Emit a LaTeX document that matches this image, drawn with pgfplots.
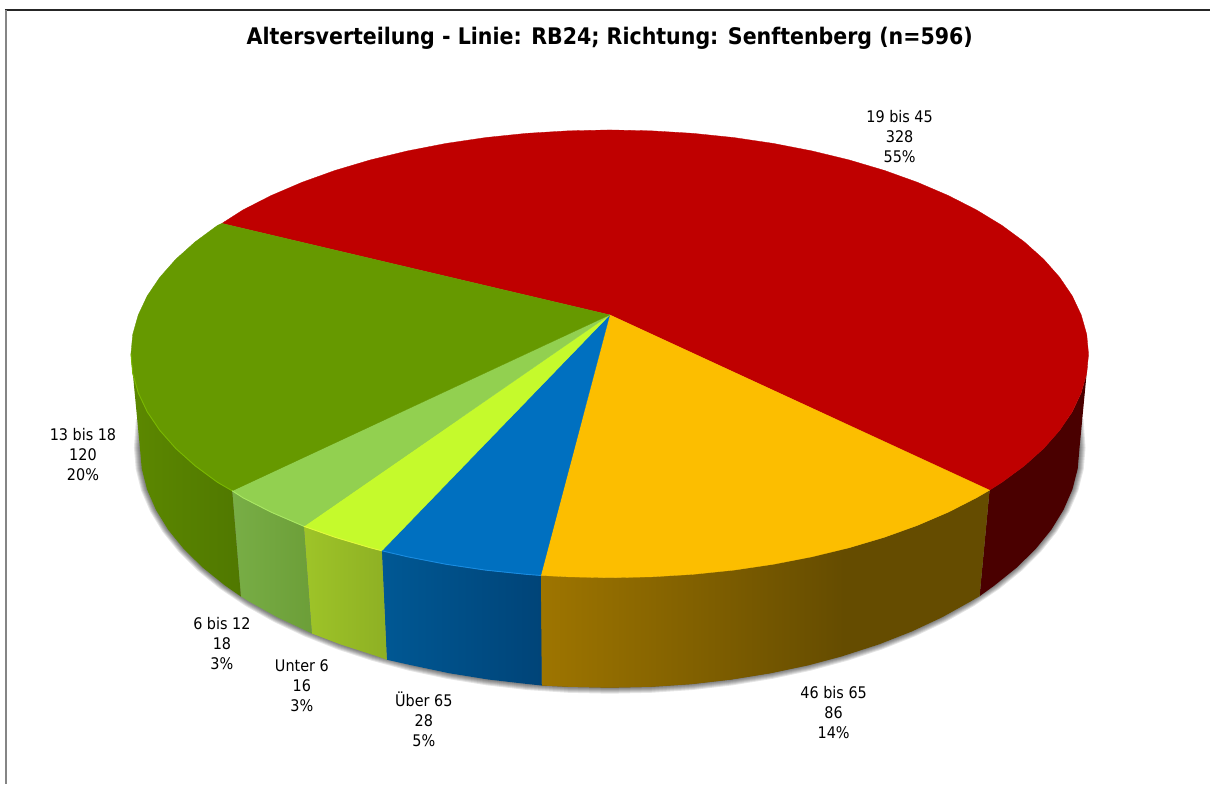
\documentclass[border=0pt]{standalone}
\usepackage{fontspec}
\usepackage{pgfplots}
\usepackage{pgfplotstable}
\pgfplotsset{compat=1.18}
\setmainfont{DejaVu Sans Condensed}

\definecolor{cred}{HTML}{BF0000}
\definecolor{cyellow}{HTML}{FCBE00}
\definecolor{cblue}{HTML}{0070C0}
\definecolor{clime}{HTML}{C5FA2C}
\definecolor{cltgreen}{HTML}{92D050}
\definecolor{cgreen}{HTML}{669900}
\definecolor{sred}{HTML}{4A0000}
\definecolor{syellow}{HTML}{654C00}
\tikzset{lab/.style={align=center, font=\fontsize{16}{20}\selectfont, text=black}}

% lower rim of the pie, used for the soft shadow
\pgfplotstableread{
x y
1078 420
1080 448
1078.2 468.9
1072.9 489.7
1064 510.1
1051.7 530.1
1036 549.4
1017 568
995 585.7
970 602.3
942.3 617.7
912.1 631.8
879.6 644.6
845 655.8
808.6 665.5
770.7 673.5
731.6 679.8
691.6 684.4
651 687.1
610 688
569 687.1
528.4 684.4
488.4 679.8
449.3 673.5
411.4 665.5
375 655.8
340.4 644.6
307.9 631.8
277.7 617.7
250 602.3
225 585.7
203 568
184 549.4
168.3 530.1
156 510.1
147.1 489.7
141.8 468.9
140 448
142 420
}\shadowedge

\begin{document}
\begin{tikzpicture}
\begin{axis}[
    scale only axis,
    width=1211pt, height=784pt,
    xmin=0, xmax=1211, ymin=0, ymax=784,
    y dir=reverse,
    hide axis,
    clip=false,
    every axis plot/.append style={forget plot},
]
% white page, keeps the full picture size
\addplot[draw=white, line width=0pt, fill=white] coordinates {(0,0) (1211,0) (1211,784) (0,784)} --cycle;
% frame
\addplot[draw=black!85, line width=1.1pt] coordinates {(5,10) (1211,10)};
\addplot[draw=black!48, line width=2pt] coordinates {(5.8,10) (5.8,784)};

% shadow
\pgfplotsinvokeforeach{1,...,6}{
  \addplot[draw=none, fill=black, fill opacity=0.10]
    table[x expr={610+(\thisrow{x}-610)*(1+#1/470)}, y expr={448+(\thisrow{y}-448)*(1+#1/240)}] {\shadowedge} --cycle;
}

% side faces
\addplot[draw=none, fill=sred] coordinates {
 (990,490.4) (1002.4,482.5) (1024.8,466) (1044.1,448.7) (1060.1,430.6) (1072.7,412) (1081.7,392.9) (1087.2,373.5) (1089,354)
 (1080,448) (1078.2,468.9) (1072.9,489.7) (1064,510.1) (1051.7,530.1) (1036,549.4) (1017,568) (995,585.7) (980,596.5)
} --cycle;
% flat base of the yellow side, the gradient lies on its left part
\addplot[draw=none, fill=syellow] coordinates {
 (541,575.7) (568.2,577.1) (610,578) (651.8,577.1) (693.2,574.6) (734,570.4) (773.8,564.5) (812.4,557) (849.5,548) (884.8,537.5) (917.9,525.6) (948.7,512.4) (976.9,498) (990,490.4)
 (980,596.5) (970,602.3) (942.3,617.7) (912.1,631.8) (879.6,644.6) (845,655.8) (808.6,665.5) (770.7,673.5) (731.6,679.8) (691.6,684.4) (651,687.1) (610,688) (569,687.1) (542,685.8)
} --cycle;
\addplot[draw=none, left color={rgb,255:red,158;green,117;blue,0}, middle color={rgb,255:red,130;green,97;blue,0}, right color=syellow] coordinates {
 (541,575.7) (568.2,577.1) (610,578) (651.8,577.1) (693.2,574.6) (734,570.4) (773.8,564.5) (812.4,557) (845,548.9)
 (845,655.8) (808.6,665.5) (770.7,673.5) (731.6,679.8) (691.6,684.4) (651,687.1) (610,688) (569,687.1) (542,685.8)
} --cycle;
\addplot[draw=none, left color={rgb,255:red,0;green,88;blue,148}, right color={rgb,255:red,0;green,68;blue,120}] coordinates {
 (382,551) (407.6,557) (446.2,564.5) (486,570.4) (526.8,574.6) (541,575.7)
 (542,685.8) (528.4,684.4) (488.4,679.8) (449.3,673.5) (411.4,665.5) (387,660)
} --cycle;
\addplot[draw=none, left color={rgb,255:red,158;green,196;blue,40}, right color={rgb,255:red,142;green,176;blue,36}] coordinates {
 (304,526.5) (335.2,537.5) (370.5,548) (382,551)
 (387,660) (375,655.8) (340.4,644.6) (312,633.8)
} --cycle;
\addplot[draw=none, left color={rgb,255:red,120;green,174;blue,70}, right color={rgb,255:red,108;green,158;blue,56}] coordinates {
 (232.3,491) (243.1,498) (271.3,512.4) (304,526.5)
 (312,633.8) (307.9,631.8) (277.7,617.7) (250,602.3) (241,596.8)
} --cycle;
\addplot[draw=none, left color={rgb,255:red,92;green,136;blue,0}, right color={rgb,255:red,80;green,120;blue,0}] coordinates {
 (131,354) (132.8,373.5) (138.3,392.9) (147.3,412) (159.9,430.6) (175.9,448.7) (195.2,466) (217.6,482.5) (232.3,491)
 (241,596.8) (225,585.7) (203,568) (184,549.4) (168.3,530.1) (156,510.1) (147.1,489.7) (141.8,468.9) (140,448)
} --cycle;

% top faces
\addplot[draw=cred, line width=0.3pt, fill=cred] coordinates {
 (610,315) (222,223.5) (243.1,210) (271.3,195.6) (302.1,182.4) (335.2,170.5) (370.5,160) (407.6,151) (446.2,143.5) (486,137.6) (526.8,133.4) (568.2,130.9) (610,130)
 (651.8,130.9) (693.2,133.4) (734,137.6) (773.8,143.5) (812.4,151) (849.5,160) (884.8,170.5) (917.9,182.4) (948.7,195.6) (976.9,210) (1002.4,225.5) (1024.8,242) (1044.1,259.3) (1060.1,277.4) (1072.7,296) (1081.7,315.1) (1087.2,334.5) (1089,354)
 (1087.2,373.5) (1081.7,392.9) (1072.7,412) (1060.1,430.6) (1044.1,448.7) (1024.8,466) (1002.4,482.5) (990,490.4)
} --cycle;
\addplot[draw=cyellow, line width=0.3pt, fill=cyellow] coordinates {
 (610,315) (990,490.4) (976.9,498) (948.7,512.4) (917.9,525.6) (884.8,537.5) (849.5,548) (812.4,557) (773.8,564.5) (734,570.4) (693.2,574.6) (651.8,577.1) (610,578) (568.2,577.1) (541,575.7)
} --cycle;
\addplot[draw=cblue, line width=0.3pt, fill=cblue] coordinates {
 (610,315) (541,575.7) (526.8,574.6) (486,570.4) (446.2,564.5) (407.6,557) (382,551)
} --cycle;
\addplot[draw=clime, line width=0.3pt, fill=clime] coordinates {
 (610,315) (382,551) (370.5,548) (335.2,537.5) (304,526.5)
} --cycle;
\addplot[draw=cltgreen, line width=0.3pt, fill=cltgreen] coordinates {
 (610,315) (304,526.5) (271.3,512.4) (243.1,498) (232.3,491)
} --cycle;
\addplot[draw=cgreen, line width=0.3pt, fill=cgreen] coordinates {
 (610,315) (232.3,491) (217.6,482.5) (195.2,466) (175.9,448.7) (159.9,430.6) (147.3,412) (138.3,392.9) (132.8,373.5) (131,354)
 (132.8,334.5) (138.3,315.1) (147.3,296) (159.9,277.4) (175.9,259.3) (195.2,242) (217.6,225.5) (222,223.5)
} --cycle;

% light rim on the front edge
\addplot[draw={rgb,255:red,122;green,184;blue,0}, line width=0.9pt] coordinates {
 (131,354) (132.8,373.5) (138.3,392.9) (147.3,412) (159.9,430.6) (175.9,448.7) (195.2,466) (217.6,482.5) (232.3,491)};
\addplot[draw={rgb,255:red,170;green,232;blue,100}, line width=0.9pt] coordinates {
 (232.3,491) (243.1,498) (271.3,512.4) (304,526.5)};
\addplot[draw={rgb,255:red,226;green,250;blue,60}, line width=0.9pt] coordinates {
 (304,526.5) (335.2,537.5) (370.5,548) (382,551)};
\addplot[draw={rgb,255:red,26;green,140;blue,224}, line width=0.9pt] coordinates {
 (382,551) (407.6,557) (446.2,564.5) (486,570.4) (526.8,574.6) (541,575.7)};

% texts
\node[font=\fontsize{22.85}{26}\bfseries\selectfont, text=black] at (axis cs:610,38) {Altersverteilung - Linie: RB24; Richtung: Senftenberg (n=596)};
\node[lab] at (axis cs:900,137) {19 bis 45\\328\\55\%};
\node[lab] at (axis cs:83,455) {13 bis 18\\120\\20\%};
\node[lab] at (axis cs:222,644) {6 bis 12\\18\\3\%};
\node[lab] at (axis cs:302,686) {Unter 6\\16\\3\%};
\node[lab] at (axis cs:424,720) {Über 65\\28\\5\%};
\node[lab] at (axis cs:834,713) {46 bis 65\\86\\14\%};
\end{axis}
\end{tikzpicture}
\end{document}
